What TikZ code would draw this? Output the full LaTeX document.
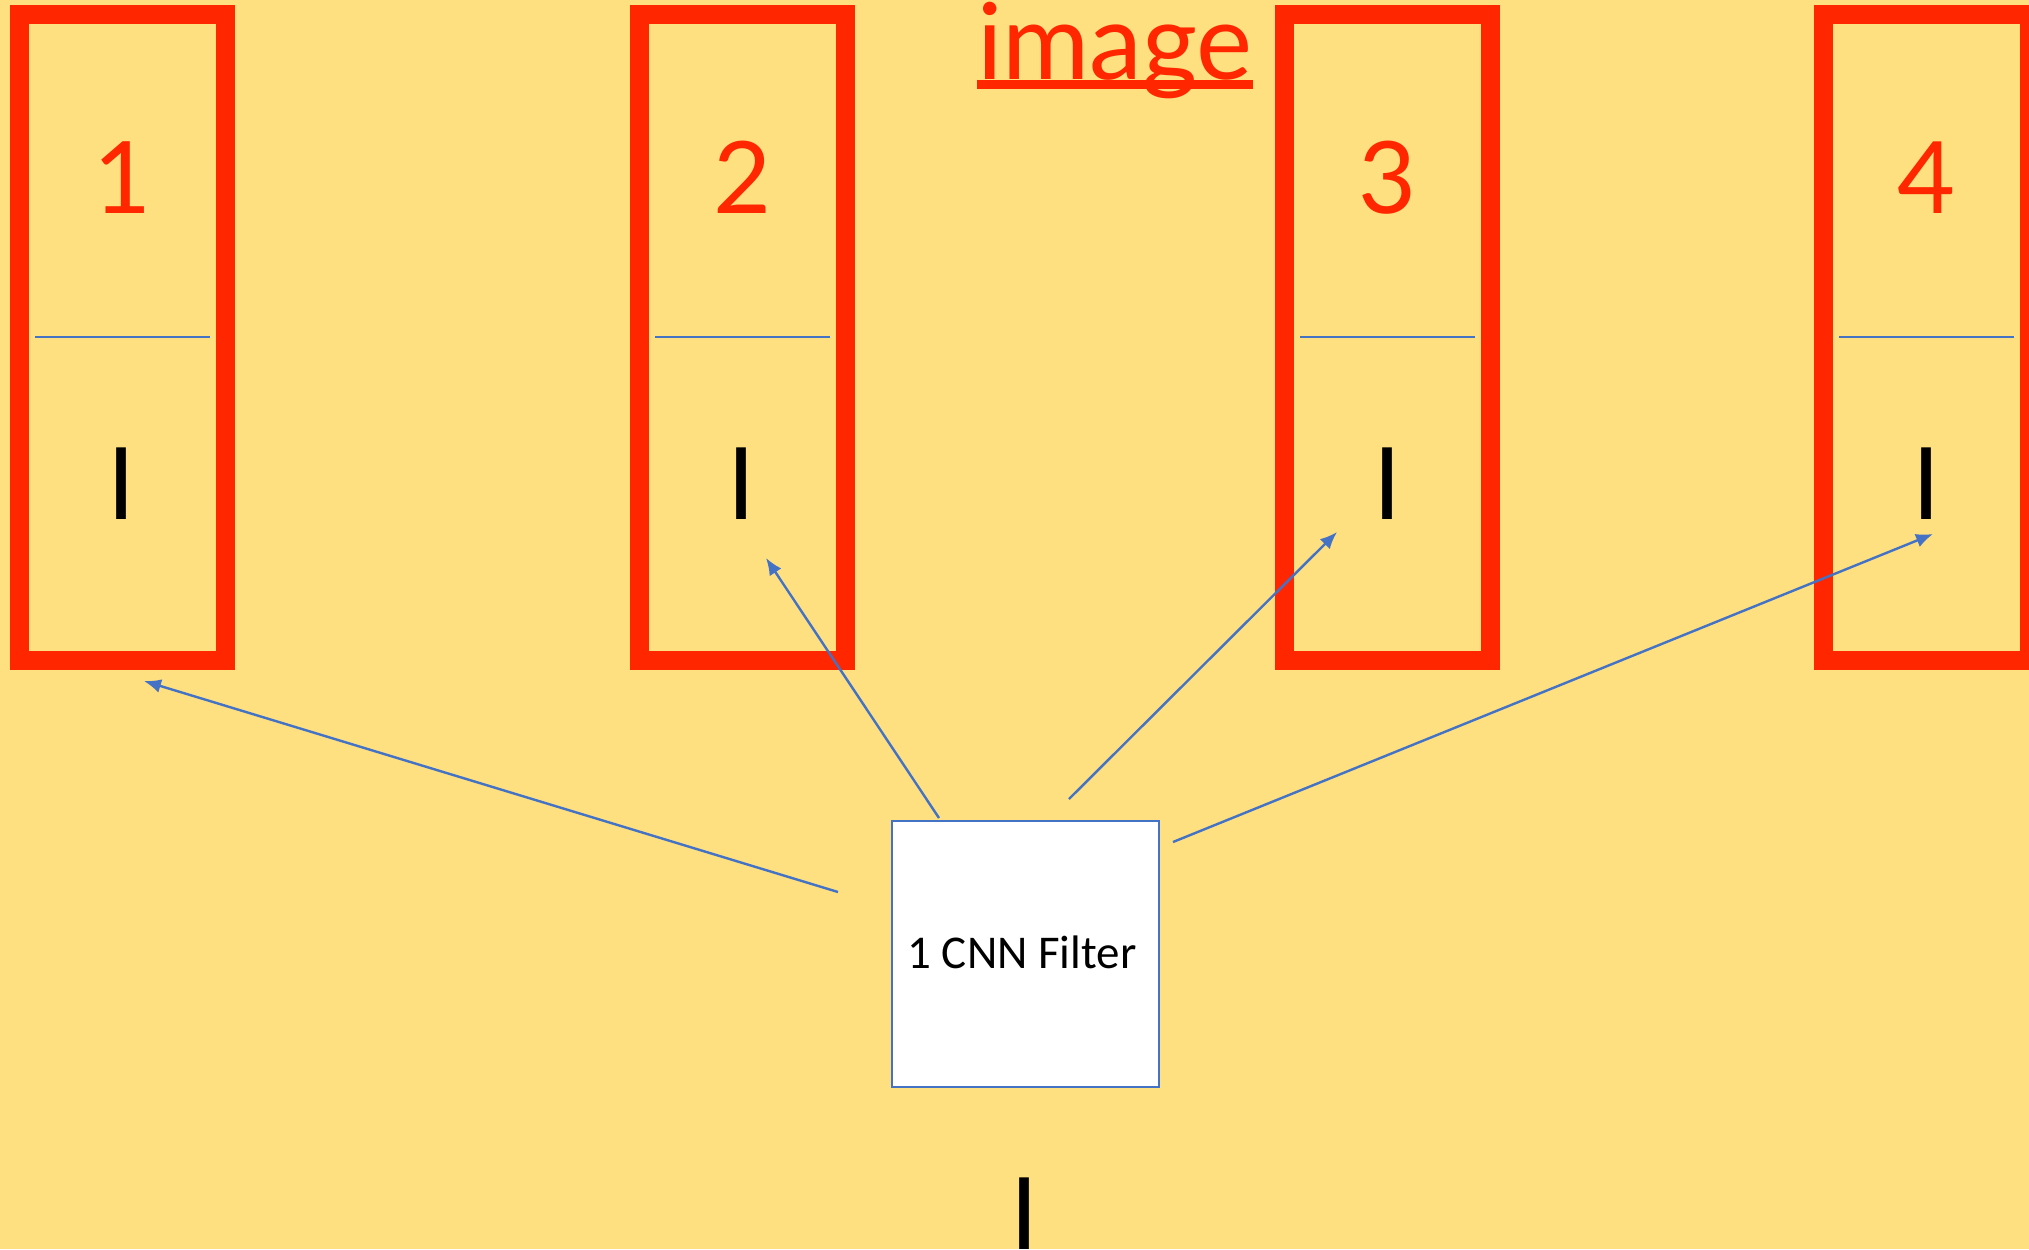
\documentclass[tikz,border=0pt]{standalone}
\usepackage{fontspec}
\newfontfamily\latofont{Lato}
\newfontfamily\carlitofont{Carlito}
\usetikzlibrary{arrows.meta}
\definecolor{bgyellow}{HTML}{FEE081}
\definecolor{boxred}{HTML}{FF2600}
\definecolor{lineblue}{HTML}{4472C4}
\tikzset{
  cell/.style={draw=boxred, line width=9.5pt, minimum width=103pt, minimum height=323pt, inner sep=0pt},
  numlabel/.style={anchor=base, inner sep=0pt, text=boxred, font=\latofont\fontsize{50pt}{60pt}\selectfont},
  ilabel/.style={anchor=base, inner sep=0pt, text=black, font=\latofont\fontsize{50pt}{60pt}\selectfont},
  divider/.style={draw=lineblue, line width=1pt},
  filterbox/.style={draw=lineblue, fill=white, line width=1.3pt, minimum width=133.5pt, minimum height=133pt, inner sep=0pt},
  conn/.style={draw=lineblue, line width=1.2pt, -{Latex[length=8.5pt,width=7pt]}}
}
\begin{document}
\begin{tikzpicture}[x=0.5pt,y=-0.5pt]
\fill[bgyellow] (0,0) rectangle (2029,1249);
\useasboundingbox (0,0) rectangle (2029,1249);
% cells
\node[cell] (c1) at (122.5,337.5) {};
\node[cell] (c2) at (742.5,337.5) {};
\node[cell] (c3) at (1387.5,337.5) {};
\node[cell] (c4) at (1926.5,337.5) {};
% dividers
\foreach \i/\x in {1/122.5,2/742.5,3/1387.5,4/1926.5}{
  \coordinate (dl\i) at (\x-87.5,337);
  \coordinate (dr\i) at (\x+87.5,337);
  \draw[divider] (dl\i) -- (dr\i);
}
% numbers
\node[numlabel] (n1) at (122.5,213) {1};
\node[numlabel] (n2) at (742.5,213) {2};
\node[numlabel] (n3) at (1387.5,213) {3};
\node[numlabel] (n4) at (1926.5,213) {4};
% I labels
\node[ilabel] (i1) at (121,519) {I};
\node[ilabel] (i2) at (741,519) {I};
\node[ilabel] (i3) at (1387,519) {I};
\node[ilabel] (i4) at (1926,519) {I};
% title
\node[anchor=base, inner sep=0pt, text=boxred, font=\latofont\fontsize{53pt}{60pt}\selectfont] (title) at (1115,79) {image};
\fill[boxred] (977,80) rectangle (1253,89);
% filter
\node[filterbox] (filter) at (1025.5,954) {};
\node[anchor=base, inner sep=0pt, font=\carlitofont\fontsize{23.5pt}{28pt}\selectfont] (ftext) at (1022,968) {1 CNN Filter};
% bottom I
\node[ilabel] (ib) at (1024,1249) {I};
% connectors
\coordinate (t1) at (838,892);
\coordinate (h1) at (144,681);
\coordinate (t2) at (939,818);
\coordinate (h2) at (766,558);
\coordinate (t3) at (1069,799);
\coordinate (h3) at (1337,532);
\coordinate (t4) at (1173,842);
\coordinate (h4) at (1933,534);
\draw[conn] (t1) -- (h1);
\draw[conn] (t2) -- (h2);
\draw[conn] (t3) -- (h3);
\draw[conn] (t4) -- (h4);
\end{tikzpicture}
\end{document}
